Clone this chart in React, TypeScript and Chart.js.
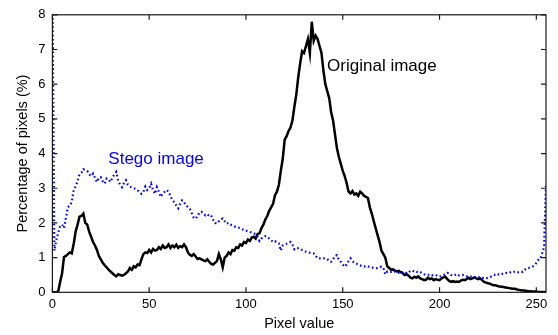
import React, { useEffect, useRef } from "react";
import { Chart, registerables } from "chart.js";

Chart.register(...registerables);

const PIXEL_VALUES: number[] = Array.from({ length: 256 }, (_, i) => i);

const ORIGINAL: number[] = [
  0, 0, 0, 0.02, 0.3, 0.55, 1.02, 1.05, 1.1, 1.15, 1.12, 1.4, 1.75, 1.95, 2.18, 2.2,
  2.27, 2.0, 1.95, 1.75, 1.6, 1.45, 1.35, 1.22, 1.05, 0.95, 0.85, 0.78, 0.72, 0.65, 0.6, 0.55,
  0.5, 0.46, 0.52, 0.5, 0.48, 0.5, 0.55, 0.6, 0.7, 0.65, 0.75, 0.72, 0.8, 0.78, 0.95, 1.1,
  1.15, 1.13, 1.22, 1.15, 1.25, 1.2, 1.22, 1.3, 1.25, 1.35, 1.28, 1.3, 1.38, 1.28, 1.35, 1.3,
  1.37, 1.28, 1.33, 1.3, 1.38, 1.3, 1.15, 1.08, 1.05, 1.1, 1.03, 0.96, 0.98, 0.95, 0.92, 0.9,
  0.95, 0.88, 0.82, 0.8, 0.85, 0.9, 1.1, 0.95, 0.72, 1.0, 1.05, 1.15, 1.1, 1.22, 1.2, 1.3,
  1.28, 1.38, 1.35, 1.45, 1.42, 1.52, 1.48, 1.58, 1.6, 1.55, 1.68, 1.7, 1.85, 1.95, 2.1, 2.2,
  2.35, 2.45, 2.55, 2.8, 2.9, 3.1, 3.5, 3.85, 4.4, 4.5, 4.65, 4.75, 4.95, 5.35, 5.7, 6.2,
  6.6, 6.95, 6.9, 7.1, 7.3, 6.9, 7.8, 7.25, 7.4, 7.3, 7.1, 6.9, 6.4, 6.0, 5.8, 5.6,
  5.2, 4.95, 4.55, 4.15, 3.9, 3.7, 3.5, 3.35, 3.15, 2.9, 2.85, 2.92, 2.82, 2.85, 2.78, 2.9,
  2.85, 2.78, 2.75, 2.72, 2.45, 2.27, 2.05, 1.85, 1.65, 1.45, 1.2, 1.1, 1.0, 0.75, 0.7, 0.65,
  0.66, 0.62, 0.6, 0.62, 0.58, 0.55, 0.5, 0.52, 0.48, 0.42, 0.4, 0.45, 0.42, 0.46, 0.4, 0.38,
  0.35, 0.36, 0.42, 0.38, 0.4, 0.35, 0.38, 0.36, 0.35, 0.4, 0.43, 0.45, 0.38, 0.33, 0.3, 0.32,
  0.3, 0.31, 0.3, 0.34, 0.36, 0.35, 0.38, 0.42, 0.38, 0.4, 0.43, 0.4, 0.38, 0.4, 0.35, 0.3,
  0.28, 0.26, 0.25, 0.22, 0.2, 0.2, 0.18, 0.17, 0.16, 0.15, 0.14, 0.13, 0.12, 0.11, 0.1, 0.1,
  0.08, 0.07, 0.06, 0.05, 0.05, 0.04, 0.03, 0.03, 0.02, 0.02, 0.02, 0.01, 0.01, 0.01, 0.01, 0,
];

const STEGO: number[] = [
  9, 1.2, 1.5, 1.72, 1.9, 1.95, 1.85, 2.15, 2.45, 2.5, 2.6, 2.95, 3.05, 3.2, 3.4, 3.45,
  3.55, 3.52, 3.5, 3.4, 3.35, 3.42, 3.3, 3.18, 3.3, 3.32, 3.2, 3.13, 3.28, 3.25, 3.18, 3.3,
  3.4, 3.47, 3.2, 3.1, 3.03, 3.15, 3.23, 3.1, 3.05, 3.02, 3.0, 2.98, 2.95, 2.88, 2.84, 2.9,
  3.05, 2.95, 3.0, 3.13, 2.95, 2.84, 3.03, 2.9, 2.75, 2.85, 2.9, 2.95, 2.9, 2.78, 2.65, 2.6,
  2.5, 2.42, 2.55, 2.65, 2.6, 2.5, 2.46, 2.4, 2.28, 2.15, 2.12, 2.2, 2.3, 2.32, 2.28, 2.22,
  2.25, 2.2, 2.22, 2.1, 2.0, 1.98, 2.05, 2.1, 2.13, 2.05, 1.98, 2.0, 1.95, 1.93, 1.9, 1.88,
  1.87, 1.85, 1.82, 1.8, 1.78, 1.75, 1.74, 1.72, 1.7, 1.68, 1.6, 1.48, 1.55, 1.6, 1.62, 1.6,
  1.55, 1.5, 1.45, 1.47, 1.43, 1.41, 1.2, 1.35, 1.38, 1.4, 1.42, 1.45, 1.38, 1.24, 1.28, 1.27,
  1.25, 1.22, 1.2, 1.17, 1.15, 1.14, 1.13, 1.12, 1.05, 0.98, 0.98, 0.97, 0.98, 0.98, 0.96, 0.9,
  0.88, 0.95, 1.05, 1.07, 0.93, 0.88, 0.8, 0.74, 0.8, 0.9, 0.98, 0.9, 0.85, 0.83, 0.8, 0.78,
  0.75, 0.74, 0.76, 0.74, 0.74, 0.72, 0.7, 0.69, 0.7, 0.72, 0.74, 0.7, 0.52, 0.6, 0.58, 0.59,
  0.62, 0.6, 0.57, 0.56, 0.55, 0.58, 0.6, 0.55, 0.57, 0.62, 0.63, 0.59, 0.6, 0.57, 0.59, 0.55,
  0.52, 0.5, 0.5, 0.52, 0.49, 0.5, 0.5, 0.47, 0.45, 0.48, 0.5, 0.52, 0.56, 0.55, 0.5, 0.48,
  0.5, 0.53, 0.49, 0.5, 0.5, 0.47, 0.46, 0.45, 0.45, 0.47, 0.44, 0.45, 0.44, 0.42, 0.43, 0.4,
  0.4, 0.42, 0.44, 0.46, 0.5, 0.5, 0.53, 0.5, 0.52, 0.55, 0.55, 0.57, 0.56, 0.59, 0.58, 0.6,
  0.57, 0.58, 0.6, 0.59, 0.65, 0.69, 0.7, 0.72, 0.74, 0.78, 0.85, 0.93, 0.95, 1.12, 1.3, 3.1,
];

const X_TICKS: number[] = [0, 50, 100, 150, 200, 250];
const Y_TICKS: number[] = [0, 1, 2, 3, 4, 5, 6, 7, 8];

const X_TITLE = "Pixel value";
const Y_TITLE = "Percentage of pixels (%)";

// annotation labels: text, x value, y value (baseline), colour
const LABEL_TEXTS: string[] = ["Original image", "Stego image"];
const LABEL_X: number[] = [141.9, 28.9];
const LABEL_Y: number[] = [6.39, 3.69];
const LABEL_COLORS: string[] = ["#000000", "#0000ff"];

const FONT = "'Liberation Sans', Arial, Helvetica, sans-serif";

const framePlugin = {
  id: "frame",
  afterDraw(chart: any) {
    const { ctx, chartArea } = chart;
    const { left, right, top, bottom } = chartArea;
    const xs = chart.scales.x;
    const ys = chart.scales.y;
    ctx.save();
    ctx.strokeStyle = "#1a1a1a";
    ctx.lineWidth = 1.2;
    ctx.strokeRect(left, top, right - left, bottom - top);
    const tl = 5;
    ctx.beginPath();
    xs.ticks.forEach((t: any) => {
      const px = xs.getPixelForValue(t.value);
      ctx.moveTo(px, bottom);
      ctx.lineTo(px, bottom - tl);
      ctx.moveTo(px, top);
      ctx.lineTo(px, top + tl);
    });
    ys.ticks.forEach((t: any) => {
      const py = ys.getPixelForValue(t.value);
      ctx.moveTo(left, py);
      ctx.lineTo(left + tl, py);
      ctx.moveTo(right, py);
      ctx.lineTo(right - tl, py);
    });
    ctx.stroke();
    ctx.font = `17px ${FONT}`;
    ctx.textAlign = "left";
    ctx.textBaseline = "alphabetic";
    LABEL_TEXTS.forEach((txt, i) => {
      ctx.fillStyle = LABEL_COLORS[i];
      ctx.fillText(txt, xs.getPixelForValue(LABEL_X[i]), ys.getPixelForValue(LABEL_Y[i]));
    });
    ctx.restore();
  },
};

export default function App() {
  const ref = useRef<HTMLCanvasElement | null>(null);
  useEffect(() => {
    if (!ref.current) return;
    const chart = new Chart(ref.current, {
      type: "line",
      data: {
        datasets: [
          {
            label: "Stego image",
            data: STEGO.map((v, i) => ({ x: PIXEL_VALUES[i], y: v })),
            borderColor: "#0000ff",
            borderWidth: 2.2,
            borderDash: [1.6, 2.6],
            borderCapStyle: "butt",
            pointRadius: 0,
            tension: 0,
            fill: false,
          },
          {
            label: "Original image",
            data: ORIGINAL.map((v, i) => ({ x: PIXEL_VALUES[i], y: v })),
            borderColor: "#000000",
            borderWidth: 2.5,
            pointRadius: 0,
            tension: 0,
            fill: false,
          },
        ],
      },
      options: {
        responsive: false,
        animation: false,
        devicePixelRatio: 1,
        layout: { padding: { left: 0, right: 12, top: 14, bottom: 0 } },
        plugins: { legend: { display: false }, tooltip: { enabled: false } },
        scales: {
          x: {
            type: "linear",
            min: 0,
            max: 255,
            afterBuildTicks: (s: any) => {
              s.ticks = X_TICKS.map((v) => ({ value: v }));
            },
            afterFit: (s: any) => {
              s.height = 42.7;
            },
            grid: { display: false, drawTicks: false },
            border: { display: false },
            ticks: { color: "#000", padding: 4, font: { family: FONT, size: 13 }, maxRotation: 0 },
            title: {
              display: true,
              text: X_TITLE,
              color: "#000",
              font: { family: FONT, size: 14.5 },
              padding: { top: 0, bottom: 2.3 },
            },
          },
          y: {
            type: "linear",
            min: 0,
            max: 8,
            afterBuildTicks: (s: any) => {
              s.ticks = Y_TICKS.map((v) => ({ value: v }));
            },
            afterFit: (s: any) => {
              s.width = 52.4;
            },
            grid: { display: false, drawTicks: false },
            border: { display: false },
            ticks: { color: "#000", padding: 7, font: { family: FONT, size: 13 } },
            title: {
              display: true,
              text: Y_TITLE,
              color: "#000",
              font: { family: FONT, size: 14.5 },
              padding: { top: 14, bottom: 0 },
            },
          },
        },
      },
      plugins: [framePlugin],
    });
    return () => chart.destroy();
  }, []);
  return (
    <div style={{ position: "fixed", left: 0, top: 0, width: 558, height: 335, background: "#fff" }}>
      <canvas ref={ref} width={558} height={335} style={{ display: "block" }} />
    </div>
  );
}
